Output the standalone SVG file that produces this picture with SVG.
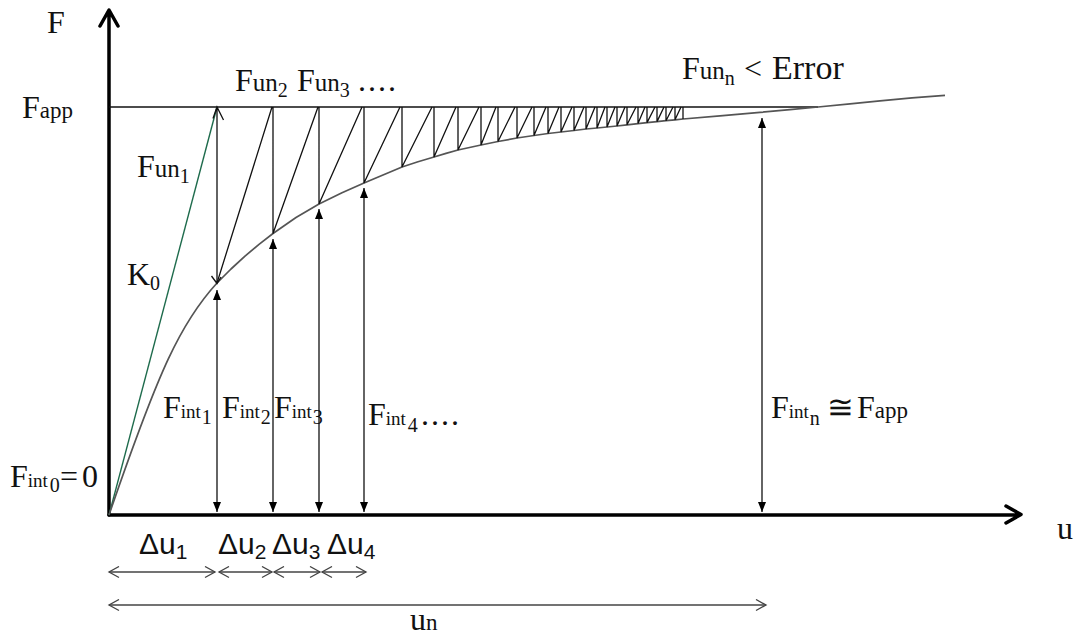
<svg xmlns="http://www.w3.org/2000/svg" width="1077" height="635" viewBox="0 0 1077 635">
<style>
.t{font-family:"Liberation Serif","Times New Roman",serif;font-size:32px;fill:#111}
.lo{font-size:25px}
.int{font-size:19px}
.app{font-size:23px}
.sub{font-size:20px}
.dots{letter-spacing:2px}
.sans{font-family:"Liberation Sans",Arial,sans-serif;font-size:30px;fill:#111}
.ssub{font-size:21px}
.thin{fill:none;stroke:#111;stroke-width:1.3}
.axis{fill:none;stroke:#000;stroke-width:3.5;stroke-linecap:round;stroke-linejoin:round}
.dim{fill:none;stroke:#444;stroke-width:1.3}
</style>
<defs>
<marker id="tri" viewBox="0 0 10 8" refX="10" refY="4" markerWidth="10" markerHeight="8" markerUnits="userSpaceOnUse" orient="auto-start-reverse"><path d="M0,0 L10,4 L0,8 z" fill="#000"/></marker>
<marker id="chev" viewBox="-1 -1 13 13" refX="10" refY="5.5" markerWidth="13" markerHeight="13" markerUnits="userSpaceOnUse" orient="auto-start-reverse"><path d="M0,0 L10,5.5 L0,11" fill="none" stroke="#444" stroke-width="1.3"/></marker>
</defs>
<rect width="1077" height="635" fill="#fff"/>
<g id="connectors">
<g id="axes">
<path class="axis" d="M109,515 V11 M100,26 L109,10 L118,26"/>
<path class="axis" d="M109,515 H1020 M1006,506 L1021,514.5 L1006,523"/>
</g>
<path id="fapp-line" class="thin" d="M109,107 H818"/>
<path id="k0-line" d="M109,515 L217,107" fill="none" stroke="#1e6b4c" stroke-width="1.4"/>
<path id="curve" fill="none" stroke="#555" stroke-width="1.7" stroke-linejoin="round" d="M109,515 C159.3,368.8 180.9,322.4 217,283 L231,269 245,256.1 259,244.3 273,233.5 296,217.5 319,204 342,192.8 364,183 383,175 402,167 418,161.8 434,157 446,153.4 458,150 481,145 498,141.5 517,138 534,135.5 548,133.5 561,132 574,130.5 586,129 597,128 607,127 617,126 627,124.8 638,123.6 647,122.6 657,121.6 666,120.7 675,119.8 683,119 720,115.8 760,112.4 790,109.7 818,107 850,103.8 880,100.8 912,97.8 945,95.3"/>
<path id="fun1-arrow" class="thin" d="M217,107 V283 M211.5,276 L217,283.5 L221,277 M213,118.5 L217,107 L223.5,120"/>
<path id="zigzag" class="thin" stroke-width="1.2" d="M217,283 L272,107 M273,107 V233.5 L318,107 M319,107 V204 L362,107 M364,107 V183 L400,107 M402,107 V167 L432,107 M434,107 V157 L456,107 M458,107 V150 L479,107 M481,107 V145 L496,107 M498,107 V141.5 L515,107 M517,107 V138 L532,107 M534,107 V135.5 L546,107 M548,107 V133.5 L559,107 M561,107 V132 L572,107 M574,107 V130.5 L584,107 M586,107 V129 L595,107 M597,107 V128 L605,107 M607,107 V127 L615,107 M617,107 V126 L625,107 M627,107 V124.8 L636,107 M638,107 V123.6 L645,107 M647,107 V122.6 L655,107 M657,107 V121.6 L664,107 M666,107 V120.7 L673,107 M675,107 V119.8 L681,107 M683,107 V119"/>
<g id="fint-arrows" class="thin" marker-start="url(#tri)" marker-end="url(#tri)">
<line x1="217" y1="512" x2="217" y2="290"/>
<line x1="273" y1="512" x2="273" y2="239"/>
<line x1="319" y1="512" x2="319" y2="209"/>
<line x1="364" y1="512" x2="364" y2="188"/>
<line x1="762" y1="512" x2="762" y2="118"/>
</g>
<g id="dims" class="dim" marker-start="url(#chev)" marker-end="url(#chev)">
<line x1="109" y1="572" x2="215" y2="572"/>
<line x1="219" y1="572" x2="272" y2="572"/>
<line x1="274" y1="572" x2="320" y2="572"/>
<line x1="322" y1="572" x2="366" y2="572"/>
<line x1="109" y1="605" x2="766" y2="605"/>
</g>
</g>
<g id="label-F"><text class="t" x="47" y="33">F</text></g>
<g id="label-u"><text class="t" x="1057" y="539" font-size="30">u</text></g>
<g id="label-Fapp"><text class="t" x="22" y="118">F<tspan class="app">app</tspan></text></g>
<g id="label-Fun23"><text class="t" x="235" y="91">F<tspan class="lo">un</tspan><tspan class="sub" dy="6">2</tspan><tspan x="297" dy="-6">F</tspan><tspan class="lo">un</tspan><tspan class="sub" dy="6">3</tspan><tspan class="dots" dy="-6" x="358">....</tspan></text></g>
<g id="label-Fun1"><text class="t" x="137" y="177">F<tspan class="lo">un</tspan><tspan class="sub" dy="6">1</tspan></text></g>
<g id="label-K0"><text class="t" x="127" y="285">K<tspan class="sub" dy="5">0</tspan></text></g>
<g id="label-Funn"><text class="t" x="682" y="79">F<tspan class="lo">un</tspan><tspan class="sub" dy="6">n</tspan><tspan x="744" dy="-6">&lt;</tspan><tspan x="772" font-size="34">Error</tspan></text></g>
<g id="label-Fint1"><text class="t" x="163" y="418" font-size="31">F<tspan class="int">int</tspan><tspan class="sub" dx="1" dy="6">1</tspan></text></g>
<g id="label-Fint2"><text class="t" x="222" y="418" font-size="31">F<tspan class="int">int</tspan><tspan class="sub" dx="1" dy="6">2</tspan></text></g>
<g id="label-Fint3"><text class="t" x="274" y="418" font-size="31">F<tspan class="int">int</tspan><tspan class="sub" dx="1" dy="6">3</tspan></text></g>
<g id="label-Fint4"><text class="t" x="368" y="425" font-size="31">F<tspan class="int">int</tspan><tspan class="sub" dx="2" dy="7">4</tspan><tspan class="dots" x="421" dy="-7">....</tspan></text></g>
<g id="label-Fint0"><text class="t" x="10" y="487" font-size="31">F<tspan class="int">int</tspan><tspan class="sub" dx="2" dy="5">0</tspan><tspan x="60" dy="-5">=</tspan><tspan x="82">0</tspan></text></g>
<g id="label-Fintn"><text class="t" x="771" y="418" font-size="31">F<tspan class="int">int</tspan><tspan class="sub" dx="1" dy="7">n</tspan><tspan x="827" dy="-7">≅</tspan><tspan x="857">F</tspan><tspan class="app">app</tspan></text></g>
<g id="label-du1"><text class="sans" x="139" y="554">Δu<tspan class="ssub" dy="5">1</tspan></text></g>
<g id="label-du2"><text class="sans" x="218" y="554">Δu<tspan class="ssub" dy="5">2</tspan></text></g>
<g id="label-du3"><text class="sans" x="272" y="554">Δu<tspan class="ssub" dy="5">3</tspan></text></g>
<g id="label-du4"><text class="sans" x="327" y="554">Δu<tspan class="ssub" dy="5">4</tspan></text></g>
<g id="label-un"><text class="t" x="410" y="630" font-size="30">u<tspan font-size="23">n</tspan></text></g>
</svg>
